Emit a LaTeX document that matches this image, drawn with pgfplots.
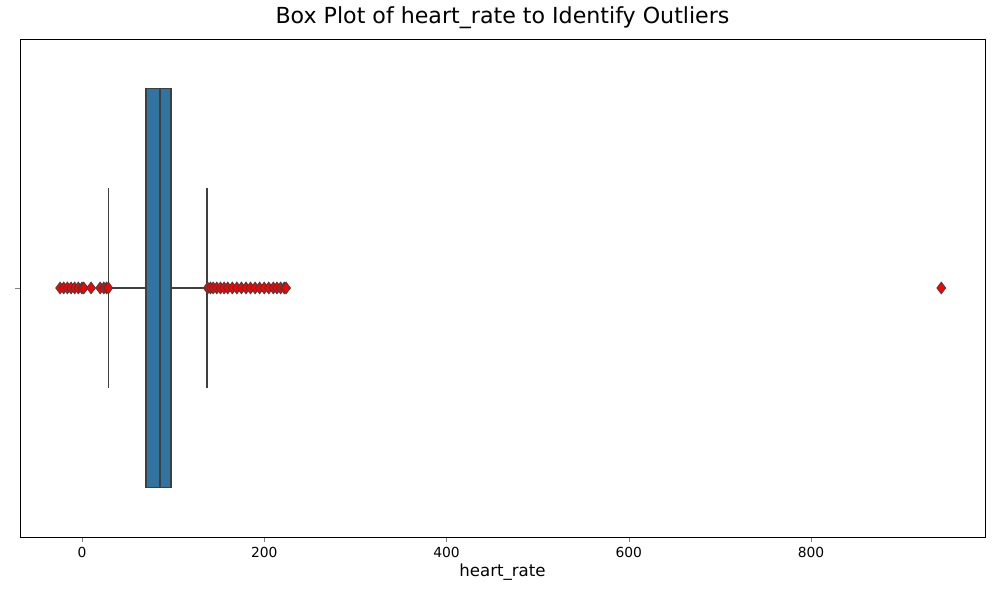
\documentclass[border=0pt]{standalone}
\usepackage{pgfplots}
\pgfplotsset{compat=1.18}
\usepgfplotslibrary{statistics}
\usepackage{fontspec}
\setmainfont{DejaVu Sans}
\definecolor{boxc}{RGB}{50,116,161}
\definecolor{edge}{RGB}{63,63,63}
\begin{document}
\begin{tikzpicture}
\begin{axis}[
  at={(0,0)}, anchor=south west,
  scale only axis, width=694.8bp, height=358.6bp,
  xmin=-68, xmax=991, ymin=-0.5, ymax=0.5,
  xtick={0,200,400,600,800}, ytick={0}, yticklabels={},
  tick align=outside, tick pos=left,
  major tick length=3.5bp,
  tick label style={font=\fontsize{10}{12}\selectfont},
  /pgf/number format/assume math mode=true,
  xlabel={heart\_rate}, xlabel style={font=\fontsize{12}{14}\selectfont, yshift=2bp},
  title={Box Plot of heart\_rate to Identify Outliers},
  title style={font=\fontsize{16}{19}\selectfont, yshift=-2bp},
  axis line style={black, line width=0.6pt},
]
\addplot+[boxplot prepared={lower whisker=29.6, lower quartile=70.3, median=85.6,
  upper quartile=97.7, upper whisker=137.2, draw position=0, box extend=0.8,
  whisker extend=0.4},
  boxplot/draw direction=x,
  draw=edge, fill=boxc, line width=0.8pt, solid, mark=none] coordinates {};
\addplot[only marks, mark=diamond*, mark size=4.2pt, mark options={fill=red, draw=edge, line width=0.6pt}]
  coordinates {(-24,0) (-20,0) (-16,0) (-12,0) (-8,0) (-4,0) (0,0) (2,0) (10,0) (20,0) (24,0) (27,0) (29,0)
  (138,0) (141,0) (144,0) (148,0) (152,0) (156,0) (160,0) (165,0) (170,0) (175,0) (180,0) (185,0) (190,0)
  (195,0) (200,0) (205,0) (210,0) (214,0) (218,0) (222,0) (224,0) (943,0)};
\end{axis}
\useasboundingbox (-14.4bp,-45.36bp) rectangle (705.6bp,386.64bp);
\end{tikzpicture}
\end{document}
